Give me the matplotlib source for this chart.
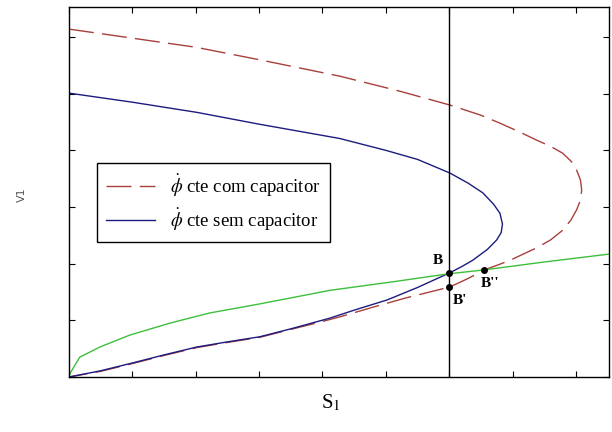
import numpy as np
import matplotlib
matplotlib.use("Agg")
from matplotlib import pyplot as plt

# curve: phi cte sem capacitor (blue, solid)
sem_x = [0.0, 1.0, 2.02, 3.01, 4.27, 5.0, 5.5, 6.01, 6.3, 6.53, 6.7, 6.8,
         6.84, 6.82, 6.75, 6.6, 6.37, 6.2, 6.01, 5.5, 5.02, 4.5, 4.12, 3.5,
         3.01, 2.5, 2.02, 1.5, 1.01, 0.5, 0.0]
sem_y = [5.01, 4.85, 4.67, 4.46, 4.21, 4.0, 3.84, 3.6, 3.42, 3.25, 3.05, 2.89,
         2.7, 2.55, 2.42, 2.25, 2.06, 1.95, 1.84, 1.58, 1.36, 1.18, 1.04, 0.85,
         0.71, 0.62, 0.53, 0.39, 0.25, 0.11, 0.0]

# phi cte com capacitor (red, dashed)
com_x = [0.0, 1.0, 2.0, 3.0, 4.27, 5.2, 6.01, 6.5, 6.8, 7.1, 7.38, 7.6, 7.79,
         7.93, 8.01, 8.07, 8.09, 8.07, 8.01, 7.92, 7.79, 7.6, 7.38, 7.15, 6.96,
         6.75, 6.55, 6.3, 6.01, 5.8, 5.33, 4.79, 4.3, 4.0, 3.5, 3.01, 2.5, 2.02,
         1.5, 1.01, 0.5, 0.0]
com_y = [6.14, 5.98, 5.82, 5.6, 5.31, 5.05, 4.8, 4.62, 4.48, 4.33, 4.18, 4.07,
         3.95, 3.8, 3.65, 3.48, 3.3, 3.12, 2.95, 2.77, 2.59, 2.42, 2.28, 2.16,
         2.06, 1.97, 1.89, 1.74, 1.59, 1.53, 1.4, 1.23, 1.07, 0.98, 0.84, 0.7,
         0.61, 0.52, 0.38, 0.24, 0.1, 0.0]

# load line (green)
carga_x = [0.0, 0.02, 0.17, 0.49, 0.96, 1.59, 2.22, 3.01, 4.12, 5.11, 5.98,
           6.55, 7.5, 8.53]
carga_y = [0.0, 0.07, 0.35, 0.53, 0.74, 0.95, 1.13, 1.29, 1.53, 1.68, 1.82,
           1.89, 2.03, 2.17]

# operating points
pts_x = [6.0, 6.0, 6.55]
pts_y = [1.84, 1.59, 1.89]
pts_lab = ["B", "B'", "B''"]
s1_line = 6.0

plt.rcParams['mathtext.fontset'] = 'stix'

fig = plt.figure(figsize=(6.12, 4.32), dpi=100)
ax = fig.add_axes([0.1127, 0.1273, 0.8823, 0.8565])

ax.plot(com_x, com_y, color='#a8403c', lw=1.0, dashes=(18, 6),
        label=r'$\dot{\phi}$ cte com capacitor')
ax.plot(sem_x, sem_y, color='#1c1c80', lw=1.0,
        label=r'$\dot{\phi}$ cte sem capacitor')
ax.plot(carga_x, carga_y, color='#3cc03c', lw=1.0)
ax.axvline(s1_line, color='black', lw=1.0)
ax.plot(pts_x, pts_y, 'o', color='black', ms=4, zorder=5)

serif = 'Liberation Serif'
ax.text(pts_x[0] - 0.1, pts_y[0] + 0.1, pts_lab[0], fontsize=11,
        fontweight='bold', family=serif, ha='right', va='bottom')
ax.text(pts_x[1] + 0.05, pts_y[1] - 0.12, pts_lab[1], fontsize=11,
        fontweight='bold', family=serif, ha='left', va='top')
ax.text(pts_x[2] - 0.05, pts_y[2] - 0.12, pts_lab[2], fontsize=11,
        fontweight='bold', family=serif, ha='left', va='top')

ax.set_xlim(0, 8.52)
ax.set_ylim(0, 6.53)
ax.set_xticks(np.arange(0, 9, 1))
ax.set_yticks(np.arange(0, 7, 1))
ax.set_xticklabels([])
ax.set_yticklabels([])
ax.tick_params(direction='in', top=True, right=True, length=4, width=0.8)
for sp in ax.spines.values():
    sp.set_linewidth(1.0)

leg = ax.legend(loc='upper left', bbox_to_anchor=(0.052, 0.578),
                borderaxespad=0, prop={'family': serif, 'size': 13.5},
                fancybox=False, edgecolor='black', framealpha=1,
                handlelength=2.6, borderpad=0.5, labelspacing=0.4)
leg.get_frame().set_linewidth(1.0)

fig.text(0.036, 0.55, 'V1', rotation=90, fontsize=8, color='#555555',
         ha='center', va='center')
fig.text(0.54, 0.068, r'S$_1$', fontsize=15, family=serif,
         ha='center', va='center')

fig.savefig('out.png', dpi=100)
